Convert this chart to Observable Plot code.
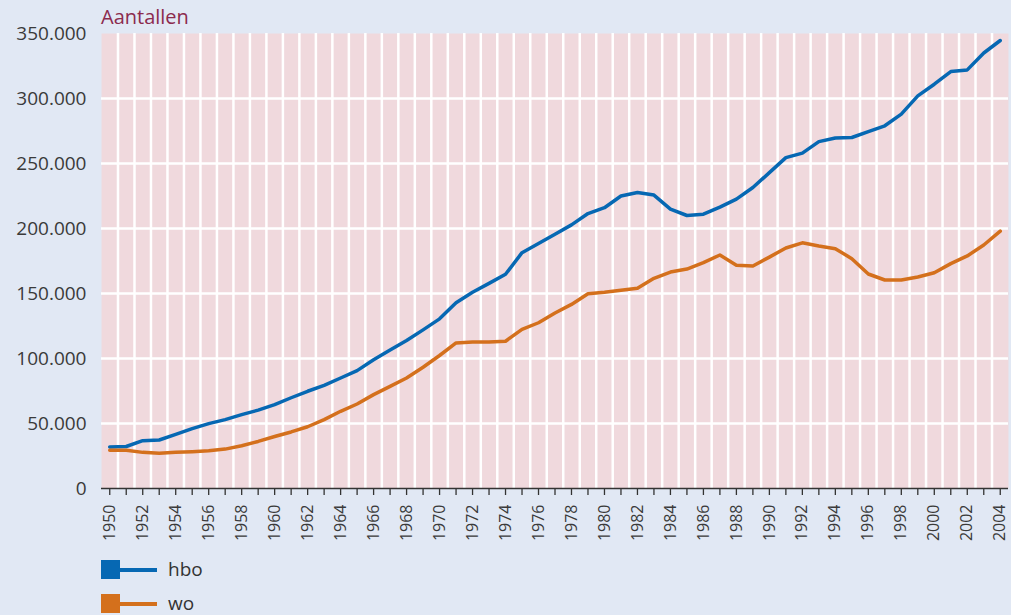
<!DOCTYPE html>
<html>
<head>
<meta charset="utf-8">
<script src="https://cdn.jsdelivr.net/npm/d3@7"></script>
<script src="https://cdn.jsdelivr.net/npm/@observablehq/plot@0.6"></script>
<style>
  html, body { margin: 0; padding: 0; background: #e1e8f4; }
  body { font-family: "Open Sans", sans-serif; }
  #wrap { position: relative; width: 1011px; height: 615px; overflow: hidden; }
  #title { position: absolute; left: 101px; top: 3px; font-size: 20px; line-height: normal; color: #8c2b4e; }
  #chart { position: absolute; left: 0; top: 0; }
  .leg { position: absolute; left: 101px; height: 19px; display: flex; align-items: center; font-size: 19px; line-height: 1; color: #333; }
  .sw { width: 19px; height: 19px; }
  .ln { width: 37px; height: 4px; margin-right: 11px; }
</style>
</head>
<body>
<div id="wrap">
  <div id="title">Aantallen</div>
  <div id="chart"></div>
  <div id="legend"></div>
</div>
<script>
const years = [1950,1951,1952,1953,1954,1955,1956,1957,1958,1959,
               1960,1961,1962,1963,1964,1965,1966,1967,1968,1969,
               1970,1971,1972,1973,1974,1975,1976,1977,1978,1979,
               1980,1981,1982,1983,1984,1985,1986,1987,1988,1989,
               1990,1991,1992,1993,1994,1995,1996,1997,1998,1999,
               2000,2001,2002,2003,2004];
const hbo = [32000,32300,36800,37300,41600,46000,49900,53000,56800,60300,
             64500,69800,74800,79400,85000,90700,99000,106600,113900,122000,
             130500,142900,151000,157800,164800,181400,188400,195600,202800,211500,
             216000,225000,227700,225700,214900,210000,211000,216500,222600,231500,
             243000,254500,258000,266800,269600,270000,274500,279000,288000,302000,
             311000,320700,322000,335000,344600];
const wo = [29500,29500,27800,27200,27800,28300,29000,30300,32900,36200,
            40000,43500,47500,53000,59400,65000,72200,78600,85000,93300,
            102300,112000,112600,112600,113300,122400,127500,135000,141600,149800,
            151000,152500,154000,161700,166500,168800,173700,179600,171700,171200,
            178000,185000,189000,186600,184500,176800,165000,160400,160400,162700,
            166000,173000,178900,187300,198000];
const seriesNames = ["hbo", "wo"];
const seriesColors = ["#0668b3", "#d4701c"];
const yTicks = [0, 50000, 100000, 150000, 200000, 250000, 300000, 350000];
const labelYears = [1950,1952,1954,1956,1958,1960,1962,1964,1966,1968,1970,1972,1974,1976,
                    1978,1980,1982,1984,1986,1988,1990,1992,1994,1996,1998,2000,2002,2004];

const rows = [];
years.forEach((yr, i) => {
  rows.push({year: yr, series: "hbo", value: hbo[i]});
  rows.push({year: yr, series: "wo", value: wo[i]});
});
const boundaries = years.slice(0, -1).map(y => y + 0.5);
const fmt = v => d3.format(",")(v).replace(/,/g, ".");

const chart = Plot.plot({
  width: 1011,
  height: 548,
  marginLeft: 101,
  marginRight: 3,
  marginTop: 33,
  marginBottom: 60,
  style: { background: "transparent", fontFamily: "'Open Sans', sans-serif", fontSize: "19px", color: "#3a3a3a" },
  x: { type: "linear", domain: [1949.5, 2004.5] },
  y: { domain: [0, 350000] },
  color: { domain: seriesNames, range: seriesColors },
  marks: [
    Plot.frame({ fill: "#f0d9dd", stroke: "none" }),
    Plot.ruleX(boundaries, { x: d => d, stroke: "white", strokeWidth: 2.5 }),
    Plot.ruleY(yTicks.slice(1, -1), { y: d => d, stroke: "white", strokeWidth: 2.5 }),
    Plot.line(rows, { x: "year", y: "value", z: "series", stroke: "series", strokeWidth: 3.5, strokeLinejoin: "round" }),
    Plot.ruleY([0], { stroke: "#333", strokeWidth: 1.5 }),
    Plot.axisX(years, { tickSize: 7, fill: "none", stroke: "#333", strokeWidth: 1.3, label: null }),
    Plot.text(labelYears, { x: d => d, frameAnchor: "bottom", dy: 16, rotate: -90, textAnchor: "end", lineAnchor: "middle", fontSize: 16, fill: "#3a3a3a", text: d => String(d) }),
    Plot.axisY(yTicks, { tickSize: 0, tickPadding: 15, tickFormat: fmt, fill: "#3a3a3a", fontSize: 19, label: null })
  ]
});
document.getElementById("chart").appendChild(chart);

const legend = document.getElementById("legend");
seriesNames.forEach((name, i) => {
  const row = document.createElement("div");
  row.className = "leg";
  row.style.top = (560 + i * 34) + "px";
  row.innerHTML = `<div class="sw" style="background:${seriesColors[i]}"></div><div class="ln" style="background:${seriesColors[i]}"></div><span>${name}</span>`;
  legend.appendChild(row);
});
</script>
</body>
</html>
